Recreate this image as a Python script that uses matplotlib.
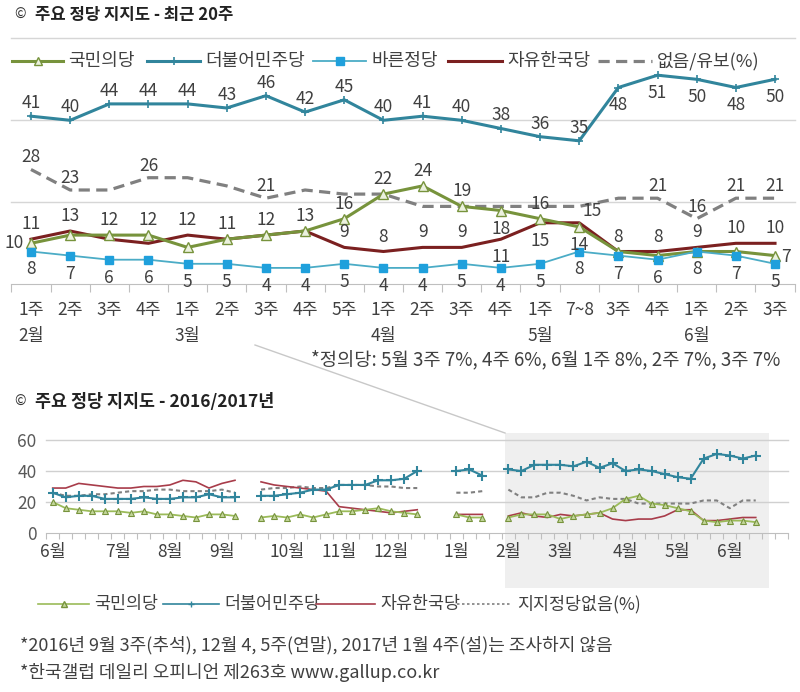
import matplotlib.pyplot as plt
import matplotlib.transforms as mtransforms
from matplotlib.lines import Line2D
from matplotlib.patches import Rectangle
import numpy as np

plt.rcParams['font.family'] = ['Noto Sans CJK KR', 'DejaVu Sans']

W, H = 800, 692
nan = np.nan

# ---- recent 20 weeks (top chart) ----
week_labels = ['1주', '2주', '3주', '4주', '1주', '2주', '3주', '4주', '5주', '1주',
               '2주', '3주', '4주', '1주', '7~8', '3주', '4주', '1주', '2주', '3주']
month_top = {0: '2월', 4: '3월', 9: '4월', 13: '5월', 17: '6월'}
minju = [41, 40, 44, 44, 44, 43, 46, 42, 45, 40, 41, 40, 38, 36, 35, 48, 51, 50, 48, 50]
kookmin = [10, 12, 12, 12, 9, 11, 12, 13, 16, 22, 24, 19, 18, 16, 14, 8, 7, 8, 8, 7]
bareun = [8, 7, 6, 6, 5, 5, 4, 4, 5, 4, 4, 5, 4, 5, 8, 7, 6, 8, 7, 5]
jayu = [11, 13, 11, 10, 12, 11, 12, 13, 9, 8, 9, 9, 11, 15, 15, 8, 8, 9, 10, 10]
none_top = [28, 23, 23, 26, 26, 24, 21, 23, 22, 22, 19, 19, 19, 19, 19, 21, 21, 16, 21, 21]

# ---- 2016/2017 weekly (bottom chart), Jun 2016 wk1 .. Jan 2017 wk4 ----
minju_old = [26, 23, 24, 24, 22, 22, 22, 23, 22, 22, 23, 23, 25, 23, 23, nan,
             24, 24, 25, 26, 28, 28, 31, 31, 31, 34, 34, 35, 40, nan, nan, 40, 41, 37, nan]
kookmin_old = [20, 16, 15, 14, 14, 14, 13, 14, 12, 12, 11, 10, 12, 12, 11, nan,
               10, 11, 10, 12, 10, 12, 14, 14, 15, 16, 14, 13, 12, nan, nan, 12, 10, 10, nan]
jayu_old = [29, 29, 32, 31, 30, 29, 29, 30, 30, 31, 34, 33, 29, 32, 34, nan,
            33, 31, 30, 29, 28, 27, 17, 16, 15, 14, 13, 14, 15, nan, nan, 12, 12, 12, nan]
none_old = [26, 24, 24, 25, 25, 26, 27, 27, 28, 28, 27, 27, 27, 28, 26, nan,
            28, 29, 29, 30, 29, 29, 31, 31, 31, 30, 30, 29, 29, nan, nan, 26, 26, 27, nan]
month_names = ['6월', '7월', '8월', '9월', '10월', '11월', '12월', '1월', '2월', '3월', '4월', '5월', '6월']
month_weeks = [0, 5, 9, 13, 18, 22, 26, 31, 35, 39, 44, 48, 52]

C_MINJU = '#31859c'
C_KOOK = '#77933c'
C_BAREUN = '#4bacc6'
C_JAYU = '#7b2020'
C_NONE = '#808080'
C_TXT = '#404040'


def fx(px):
    return px / W


def fy(py):
    return 1 - py / H


fig = plt.figure(figsize=(W / 100, H / 100), dpi=100)

# ================= top chart =================
n = len(minju)
x = np.arange(n)
ax1 = fig.add_axes([fx(11.4), fy(284.3), (783.2) / W, 246 / H])
ax1.set_xlim(-0.5, n - 0.5)
ax1.set_ylim(0, 60)
for v in (20, 40, 60):
    ax1.axhline(v, color='#d6d6d6', lw=1, zorder=0, clip_on=False)
for s in ('left', 'right', 'top'):
    ax1.spines[s].set_visible(False)
ax1.spines['bottom'].set_color('#bfbfbf')
ax1.set_yticks([])
ax1.set_xticks(np.arange(-0.5, n, 1))
ax1.set_xticklabels([])
ax1.tick_params(axis='x', length=6, color='#bfbfbf')

ax1.plot(x, none_top, color=C_NONE, lw=2.3, ls=(0, (3.5, 2)), zorder=2)
ax1.plot(x, minju, color=C_MINJU, lw=2.2, marker='+', ms=6, mew=1.2, zorder=3)
ax1.plot(x, jayu, color=C_JAYU, lw=2.2, zorder=3)
ax1.plot(x, kookmin, color=C_KOOK, lw=2.2, marker='^', ms=6.5, mfc='#ebf1de',
         mec=C_KOOK, mew=1, zorder=4)
ax1.plot(x, bareun, color=C_BAREUN, lw=1.3, marker='s', ms=5.5, mfc='#1fa0dc',
         mec='#1fa0dc', zorder=4)

# label placement codes: a above, b below, l left, r right, R above-right, - none
offsets = {'a': (0, 15), 'b': (0, -18), 'l': (-17, 0), 'r': (11, -1), 'R': (13, 12)}


def put_labels(values, codes, up=15):
    for i, (v, c) in enumerate(zip(values, codes)):
        if c == '-':
            continue
        dx, dy = offsets[c]
        if c == 'a':
            dy = up
        ax1.annotate(str(v), (i, v), xytext=(dx, dy), textcoords='offset pixels',
                     ha='center', va='center', fontsize=12.5, color=C_TXT, zorder=6)


put_labels(minju, 'a' * 15 + 'b' * 5, up=13)
put_labels(bareun, 'b' * 20)
put_labels(none_top, 'aa-a--a---------aaaa', up=12)
put_labels(kookmin, 'l-aa-aa-aaaabab----r')
put_labels(jayu, 'aa--a--aaaaabbRaaaaa')

tr1 = mtransforms.blended_transform_factory(ax1.transData, fig.transFigure)
for i, lab in enumerate(week_labels):
    fig.text(i, fy(310), lab, transform=tr1, ha='center', va='center', fontsize=12.5, color=C_TXT)
for i, lab in month_top.items():
    fig.text(i, fy(336), lab, transform=tr1, ha='center', va='center', fontsize=12.5, color=C_TXT)

fig.text(fx(14), fy(15), '©', fontsize=10, va='center', color='#333333')
fig.text(fx(35), fy(15), '주요 정당 지지도 - 최근 20주', fontsize=12, fontweight='bold',
         va='center', color='#222222')


def legend_item(x0, x1, y, text, kw, mk=None, size=13):
    fig.add_artist(Line2D([fx(x0), fx(x1)], [fy(y), fy(y)], transform=fig.transFigure, **kw))
    if mk:
        fig.add_artist(Line2D([fx((x0 + x1) / 2)], [fy(y)], transform=fig.transFigure, **mk))
    fig.text(fx(x1 + 5), fy(y), text, va='center', fontsize=size, color=C_TXT)


legend_item(12, 63, 61, '국민의당', dict(color=C_KOOK, lw=2.2),
            dict(marker='^', ms=6, mfc='#ebf1de', mec=C_KOOK, color=C_KOOK))
legend_item(147, 200, 61, '더불어민주당', dict(color=C_MINJU, lw=2.2),
            dict(marker='+', ms=6, mew=1.2, color=C_MINJU))
legend_item(313, 366, 61, '바른정당', dict(color=C_BAREUN, lw=1.3),
            dict(marker='s', ms=5.5, mfc='#1fa0dc', mec='#1fa0dc', color=C_BAREUN))
legend_item(448, 502, 61, '자유한국당', dict(color=C_JAYU, lw=2.2))
legend_item(598, 652, 61, '없음/유보(%)', dict(color=C_NONE, lw=2.3, ls=(0, (3.5, 2))))

fig.text(fx(780), fy(360), '*정의당: 5월 3주 7%, 4주 6%, 6월 1주 8%, 2주 7%, 3주 7%',
         ha='right', va='center', fontsize=13.5, color=C_TXT)

# ================= bottom chart =================
minju_all = minju_old + minju
kookmin_all = kookmin_old + kookmin
jayu_all = jayu_old + jayu
none_all = none_old + none_top
nb = len(minju_all)
xb = np.arange(nb)

ax2 = fig.add_axes([fx(46.2), fy(533), 742.1 / W, 93 / H])
ax2.set_xlim(-0.5, 56.5)
ax2.set_ylim(0, 60)
for v in (20, 40, 60):
    ax2.axhline(v, color='#d0d0d0', lw=1, zorder=1, clip_on=False)
for s in ('left', 'right', 'top'):
    ax2.spines[s].set_visible(False)
ax2.spines['bottom'].set_color('#bfbfbf')
ax2.set_yticks([0, 20, 40, 60])
ax2.tick_params(axis='y', length=0, pad=7, labelsize=12.5, labelcolor='#595959')
ax2.set_xticks(np.arange(-0.5, 57, 1))
ax2.set_xticklabels([])
ax2.tick_params(axis='x', length=4, color='#bfbfbf')

trb = mtransforms.blended_transform_factory(ax2.transData, fig.transFigure)
ax2.add_patch(Rectangle((34.75, fy(588)), 20.25, fy(433) - fy(588), transform=trb,
                        facecolor='#efefef', edgecolor='none', zorder=0, clip_on=False))

ax2.plot(xb, none_all, color=C_NONE, lw=1.5, ls=(0, (2, 1.5)), zorder=2)
ax2.plot(xb, jayu_all, color='#a83c4a', lw=1.2, zorder=3)
ax2.plot(xb, kookmin_all, color='#9bbb59', lw=1.3, marker='^', ms=5, mfc='#c3d69b',
         mec=C_KOOK, mew=0.8, zorder=4)
ax2.plot(xb, minju_all, color=C_MINJU, lw=1.5, marker='+', ms=7.5, mew=1.5, zorder=5)

for w, lab in zip(month_weeks, month_names):
    fig.text(w, fy(552), lab, transform=trb, ha='center', va='center', fontsize=12.5, color=C_TXT)

fig.text(fx(14), fy(402), '©', fontsize=10, va='center', color='#333333')
fig.text(fx(35), fy(402), '주요 정당 지지도 - 2016/2017년', fontsize=12.5, fontweight='bold',
         va='center', color='#222222')

# zoom connector from top chart to shaded region
fig.add_artist(Line2D([fx(255), fx(505)], [fy(345), fy(433)], transform=fig.transFigure,
                      color='#c8c8c8', lw=1))

legend_item(38, 89, 604, '국민의당', dict(color='#9bbb59', lw=1.2),
            dict(marker='^', ms=4, mfc='#c3d69b', mec=C_KOOK, color=C_KOOK), size=12.5)
legend_item(163, 219, 604, '더불어민주당', dict(color=C_MINJU, lw=1.2),
            dict(marker='+', ms=5, mew=1, color=C_MINJU), size=12.5)
legend_item(316, 375, 604, '자유한국당', dict(color='#a83c4a', lw=1.2), size=12.5)
legend_item(457, 512, 604, '지지정당없음(%)', dict(color=C_NONE, lw=1.2, ls=(0, (1.5, 1.5))), size=12.5)

fig.text(fx(20), fy(645), '*2016년 9월 3주(추석), 12월 4, 5주(연말), 2017년 1월 4주(설)는 조사하지 않음',
         va='center', fontsize=13, color=C_TXT)
fig.text(fx(20), fy(672), '*한국갤럽 데일리 오피니언 제263호 www.gallup.co.kr',
         va='center', fontsize=13, color=C_TXT)

fig.savefig('out.png', dpi=100)
